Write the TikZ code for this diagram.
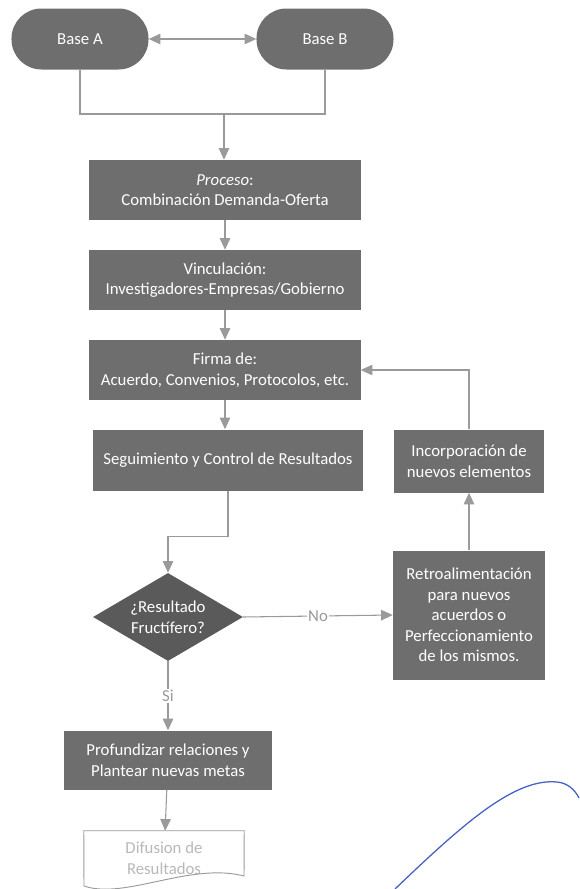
\documentclass[tikz,border=0pt]{standalone}
\usepackage{fontspec}
\setmainfont{Carlito}
\usetikzlibrary{arrows.meta, shapes.geometric}
\definecolor{BoxGray}{HTML}{6E6E6E}
\definecolor{DarkGray}{HTML}{5A5A5A}
\definecolor{LineGray}{HTML}{9A9A9A}
\definecolor{Pen}{HTML}{4662C4}

\begin{document}
\begin{tikzpicture}[x=0.03cm, y=-0.03cm, font=\fontsize{14.3}{17.5}\selectfont,
        procbox/.style={rectangle, fill=BoxGray, text=white, align=center, inner sep=0pt},
        termbox/.style={procbox, rounded corners=0.9cm, minimum width=4.11cm, minimum height=1.83cm},
        decbox/.style={diamond, fill=DarkGray, text=white, align=center, inner sep=0pt, aspect=1.7, minimum width=4.5cm, minimum height=2.64cm},
        wire/.style={draw=LineGray, line width=0.9pt},
        conn/.style={wire, -{Triangle[width=9pt, length=10pt]}},
        lbl/.style={fill=white, text=LineGray, inner sep=1pt}]
            \useasboundingbox (0, 0) rectangle (579, 889);
            \node[termbox] (baseA) at (80, 39) {Base A};
            \node[termbox] (baseB) at (325, 39) {Base B};
            \node[procbox, minimum width=8.13cm, minimum height=1.8cm] (proc) at (225, 190) {\textit{Proceso}:\\Combinación Demanda-Oferta};
            \node[procbox, minimum width=8.13cm, minimum height=1.8cm] (vinc) at (225, 280) {Vinculación:\\Investigadores-Empresas/Gobierno};
            \node[procbox, minimum width=8.13cm, minimum height=1.8cm] (firma) at (225, 370) {Firma de:\\Acuerdo, Convenios, Protocolos, etc.};
            \node[procbox, minimum width=8.1cm, minimum height=1.83cm] (seg) at (228, 460) {Seguimiento y Control de Resultados};
            \node[decbox] (dec) at (168, 617) {¿Resultado\\Fructífero?};
            \node[procbox, minimum width=4.56cm, minimum height=3.87cm] (retro) at (469, 615) {Retroalimentación\\para nuevos\\acuerdos o\\Perfeccionamiento\\de los mismos.};
            \node[procbox, minimum width=4.5cm, minimum height=1.89cm] (incorp) at (469, 461) {Incorporación de\\nuevos elementos};
            \node[procbox, minimum width=6.24cm, minimum height=1.77cm] (prof) at (168, 760) {Profundizar relaciones y\\Plantear nuevas metas};
            \node[align=center, text=LineGray!70, minimum width=4.8cm, minimum height=1.62cm, inner sep=0pt] (difus) at (164, 858) {Difusion de\\Resultados};
            \draw[LineGray, line width=0.8pt] (difus.north west) -- (difus.north east) -- (244, 876) .. controls (190, 862) and (125, 900) .. (84, 886) -- cycle;
            % bases to process
            \coordinate (merge) at (224, 114);
            \draw[wire] (baseA.south) |- (merge) -| (baseB.south);
            \draw[wire, {Triangle[width=9pt, length=10pt]}-{Triangle[width=9pt, length=10pt]}] (baseA) -- (baseB);
            \draw[conn] (merge) -- (merge |- proc.north);
            \draw[conn] (proc) -- (vinc);
            \draw[conn] (vinc) -- (firma);
            \draw[conn] (firma.south) -- (firma.south |- seg.north);
            \draw[conn] (seg.south) -- ++(0, 46) -| (dec.north);
            \draw[conn] (dec.east) -- node[lbl] {No} (retro.west);
            \draw[conn] (retro) -- (incorp);
            \draw[conn] (incorp.north) |- (firma.east);
            \draw[conn] (dec.south) -- node[lbl] {Si} (prof.north);
            \draw[conn] (prof) -- (difus);
            % pen stroke
            \draw[Pen, line width=1.1pt] (395, 889) .. controls (465, 822) and (515, 778) .. (557, 782) .. controls (568, 783) and (575, 790) .. (579, 798);
        \end{tikzpicture}
\end{document}
